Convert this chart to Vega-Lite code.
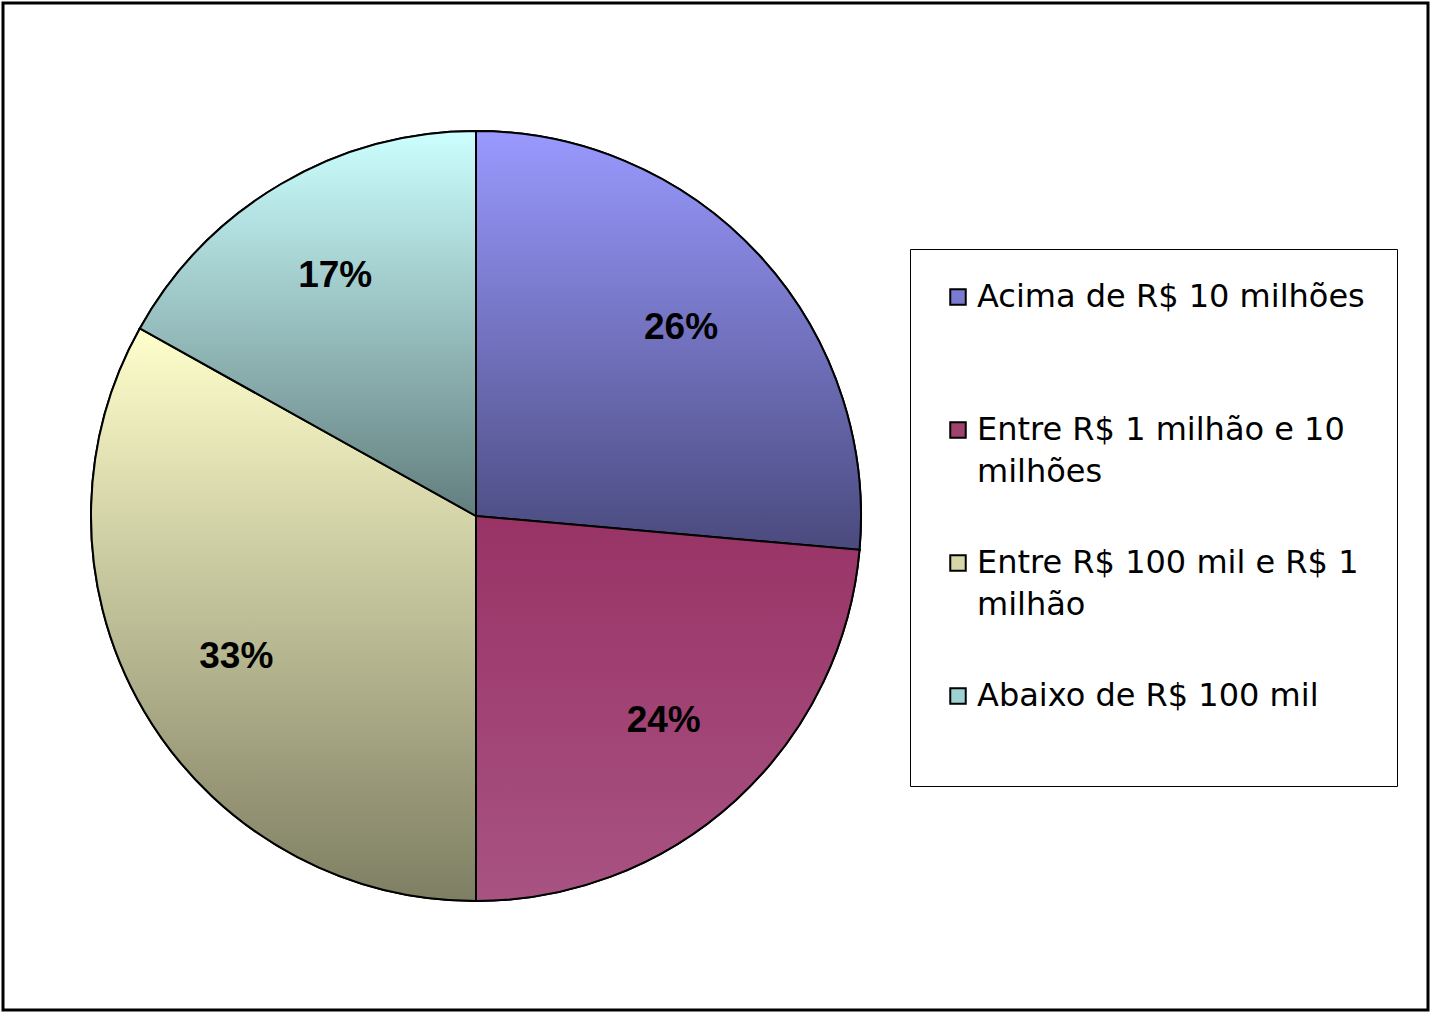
{
  "$schema": "https://vega.github.io/schema/vega-lite/v6.json",
  "autosize": {"type": "fit", "contains": "padding"},
  "width": 1431,
  "height": 1013,
  "padding": 1,
  "background": "white",
  "config": {"view": {"stroke": null}},
  "data": {
    "values": [
      {"faixa": "Acima de R$ 10 milhões", "valor": 26.4, "rotulo": "26%", "ord": 1},
      {"faixa": "Entre R$ 1 milhão e 10 milhões", "valor": 23.6, "rotulo": "24%", "ord": 2},
      {"faixa": "Entre R$ 100 mil e R$ 1 milhão", "valor": 33.1, "rotulo": "33%", "ord": 3},
      {"faixa": "Abaixo de R$ 100 mil", "valor": 16.9, "rotulo": "17%", "ord": 4}
    ]
  },
  "layer": [
    {
      "data": {"values": [{"moldura": 1}]},
      "mark": {"type": "rect", "fill": null, "stroke": "black", "strokeWidth": 3},
      "encoding": {
        "x": {"value": 0},
        "x2": {"value": "width"},
        "y": {"value": 0},
        "y2": {"value": "height"}
      }
    },
    {
      "mark": {"type": "arc", "x": 473, "y": 513, "outerRadius": 385, "stroke": "black", "strokeWidth": 2},
      "encoding": {
        "theta": {"field": "valor", "type": "quantitative", "stack": true},
        "order": {"field": "ord", "type": "quantitative"},
        "fill": {
          "field": "faixa",
          "type": "nominal",
          "scale": {
            "domain": ["Acima de R$ 10 milhões", "Entre R$ 1 milhão e 10 milhões", "Entre R$ 100 mil e R$ 1 milhão", "Abaixo de R$ 100 mil"],
            "range": ["#7A7AD0", "#A0436F", "#D6D6A8", "#9ED2D2"]
          },
          "legend": {
            "orient": "none",
            "legendX": 907,
            "legendY": 246,
            "title": null,
            "strokeColor": "black",
            "fillColor": "white",
            "padding": 32,
            "gridAlign": "all",
            "symbolType": "square",
            "symbolSize": 240,
            "symbolStrokeColor": "black",
            "symbolStrokeWidth": 2,
            "labelFont": "DejaVu Sans",
            "labelFontSize": 32,
            "labelColor": "black",
            "labelLimit": 600,
            "labelOffset": 3,
            "rowPadding": 59,
            "labelExpr": "datum.label == 'Entre R$ 1 milhão e 10 milhões' ? ['Entre R$ 1 milhão e 10', 'milhões'] : datum.label == 'Entre R$ 100 mil e R$ 1 milhão' ? ['Entre R$ 100 mil e R$ 1', 'milhão'] : datum.label == 'Abaixo de R$ 100 mil' ? ['Abaixo de R$ 100 mil', ' '] : datum.label",
            "encode": {"labels": {"update": {"lineHeight": {"value": 42}}}}
          }
        }
      }
    },
    {
      "mark": {"type": "arc", "x": 473, "y": 513, "outerRadius": 385, "stroke": "black", "strokeWidth": 2},
      "encoding": {
        "theta": {"field": "valor", "type": "quantitative", "stack": true},
        "order": {"field": "ord", "type": "quantitative"},
        "fill": {
          "condition": [
            {"test": "datum.ord == 1", "value": {"gradient": "linear", "x1": 0, "y1": 0, "x2": 0, "y2": 1, "stops": [{"offset": 0, "color": "#9999FF"}, {"offset": 1, "color": "#4A4A7E"}]}},
            {"test": "datum.ord == 2", "value": {"gradient": "linear", "x1": 0, "y1": 0, "x2": 0, "y2": 1, "stops": [{"offset": 0, "color": "#993366"}, {"offset": 1, "color": "#A85382"}]}},
            {"test": "datum.ord == 3", "value": {"gradient": "linear", "x1": 0, "y1": 0, "x2": 0, "y2": 1, "stops": [{"offset": 0, "color": "#FFFFCC"}, {"offset": 1, "color": "#7E7E63"}]}}
          ],
          "value": {"gradient": "linear", "x1": 0, "y1": 0, "x2": 0, "y2": 1, "stops": [{"offset": 0, "color": "#CCFFFF"}, {"offset": 1, "color": "#637E7E"}]}
        }
      }
    },
    {
      "mark": {"type": "text", "x": 473, "y": 513, "radius": 278, "font": "Liberation Sans", "fontSize": 37, "fontWeight": "bold", "color": "black"},
      "encoding": {
        "theta": {"field": "valor", "type": "quantitative", "stack": true},
        "order": {"field": "ord", "type": "quantitative"},
        "text": {"field": "rotulo"}
      }
    }
  ]
}
